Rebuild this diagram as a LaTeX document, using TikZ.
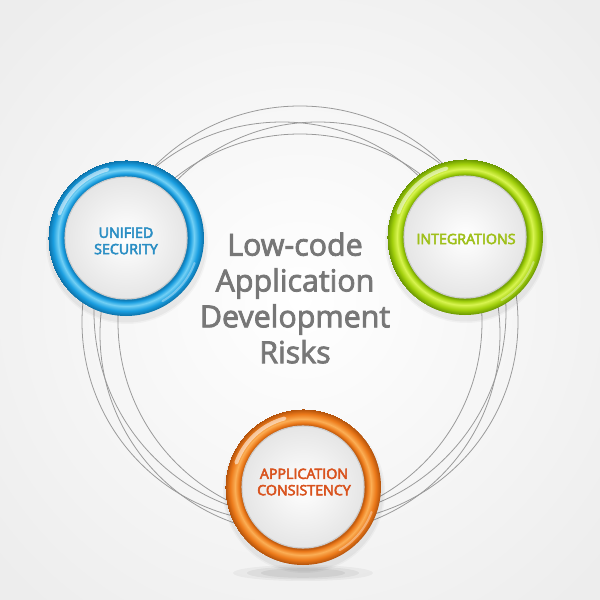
\documentclass[tikz,border=0pt]{standalone}
\usepackage{fontspec}
\setmainfont{Open Sans}
\usetikzlibrary{calc}
\newcommand{\heavytext}[2]{\special{pdf:code 2 Tr #1 w}#2\special{pdf:code 0 Tr}}
\definecolor{bluemain}{HTML}{1A9EE0}
\definecolor{bluelight}{HTML}{72D0F5}
\definecolor{bluedark}{HTML}{0B6FA6}
\definecolor{greenmain}{HTML}{A2D00C}
\definecolor{greenlight}{HTML}{D8F450}
\definecolor{greendark}{HTML}{679400}
\definecolor{orangemain}{HTML}{EC7A1A}
\definecolor{orangelight}{HTML}{FBAE55}
\definecolor{orangedark}{HTML}{B0500A}
\definecolor{bluetext}{HTML}{2A8EC4}
\definecolor{greentext}{HTML}{9FC01A}
\definecolor{orangetext}{HTML}{D9531E}
\definecolor{midtext}{HTML}{777777}
\definecolor{arcgray}{HTML}{9A9A9A}
\pgfdeclareradialshading{ringblue}{\pgfpoint{0}{0}}{color(0bp)=(white); color(19.3bp)=(white); color(19.6bp)=(bluedark); color(20.6bp)=(bluemain); color(21.8bp)=(bluelight); color(23.4bp)=(bluemain); color(25bp)=(bluedark)}
\pgfdeclareradialshading{ringgreen}{\pgfpoint{0}{0}}{color(0bp)=(white); color(19.3bp)=(white); color(19.6bp)=(greendark); color(20.6bp)=(greenmain); color(21.8bp)=(greenlight); color(23.4bp)=(greenmain); color(25bp)=(greendark)}
\pgfdeclareradialshading{ringorange}{\pgfpoint{0}{0}}{color(0bp)=(white); color(19.3bp)=(white); color(19.6bp)=(orangedark); color(20.6bp)=(orangemain); color(21.8bp)=(orangelight); color(23.4bp)=(orangemain); color(25bp)=(orangedark)}
\tikzset{
  arcline/.style={draw=arcgray, line width=0.45pt},
  ringlabel/.style={font=\fontsize{8.1pt}{9.3pt}\selectfont, align=center, inner sep=0pt},
  midlabel/.style={font=\fontsize{17.3pt}{20.4pt}\selectfont, text=midtext, align=center, inner sep=0pt},
  gloss/.style={draw=white, line width=2.2pt, line cap=round, opacity=0.55}
}
\begin{document}
\begin{tikzpicture}[x=0.02cm, y=0.02cm]
  \useasboundingbox (0,0) rectangle (600,600);
  % background
  \shade[inner color=white, outer color=gray!14] (-100,-100) rectangle (700,700);
  % centres of the three rings
  \coordinate (blue) at (126,362);
  \coordinate (green) at (465,363);
  \coordinate (orange) at (303,113);
  % thin arcs
  \draw[arcline] (300,288) circle (206);
  \draw[arcline] (282,278) circle (200);
  \draw[arcline] (318,278) circle (200);
  \draw[arcline] (300,266) circle (200);
  % soft shadows
  \foreach \c in {blue,green,orange}{
    \foreach \r/\o in {81/0.03,79.5/0.04}{
      \fill[black, opacity=\o] ($(\c)+(1,-5)$) circle (\r);
    }
  }
  \foreach \r/\o in {1/0.04,0.8/0.05,0.6/0.06}{
    \fill[black, opacity=\o] ($(orange)+(0,-86)$) ellipse ({70*\r} and {8*\r});
  }
  % rings
  \foreach \c/\s in {blue/ringblue,green/ringgreen,orange/ringorange}{
    \shade[shading=\s] (\c) circle (78);
    \shade[inner color=white, outer color=gray!20] (\c) circle (61);
    \draw[gray!40, line width=0.6pt] (\c) circle (61);
    \draw[gloss] ($(\c)+(105:71)$) arc (105:160:71);
    \draw[white, opacity=0.35, line width=1.2pt, line cap=round] ($(\c)+(-60:73)$) arc (-60:-20:73);
  }
  % labels
  \node[ringlabel, text=bluetext] (bluetxt) at ($(blue)+(0,-3)$) {\heavytext{0.3}{UNIFIED}\\\heavytext{0.3}{SECURITY}};
  \node[ringlabel, text=greentext] (greentxt) at ($(green)+(1,-2)$) {\heavytext{0.3}{INTEGRATIONS}};
  \node[ringlabel, text=orangetext] (orangetxt) at ($(orange)+(1,5)$) {\heavytext{0.3}{APPLICATION}\\\heavytext{0.3}{CONSISTENCY}};
  \node[midlabel] (title) at (295,302) {\heavytext{0.45}{Low-code}\\\heavytext{0.45}{Application}\\\heavytext{0.45}{Development}\\\heavytext{0.45}{Risks}};
\end{tikzpicture}
\end{document}
